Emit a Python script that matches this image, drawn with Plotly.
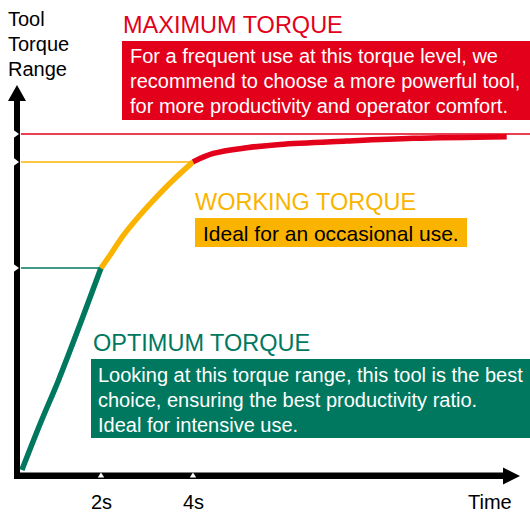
import plotly.graph_objects as go

# ---- data (time in s, torque in % of max tool torque) ----
time_optimum = [0.28, 0.70, 1.07, 1.59, 2.00]
torque_optimum = [0.0, 14.5, 26.5, 45.0, 60.1]

time_working = [2.00, 2.20, 2.49, 2.85, 3.21, 3.57, 4.00]
torque_working = [60.1, 64.0, 69.9, 75.9, 81.3, 86.3, 91.7]

time_maximum = [4.00, 4.44, 5.17, 5.89, 7.34, 8.79, 10.82]
torque_maximum = [91.7, 94.2, 95.9, 96.9, 97.9, 98.7, 99.2]

level_names = ["OPTIMUM TORQUE", "WORKING TORQUE", "MAXIMUM TORQUE"]
level_values = [60.1, 91.7, 100.0]
level_times = [2.0, 4.0, 11.4]
x_tick_vals = [2, 4]
x_tick_text = ["2s", "4s"]
axis_start = 0.26

RED = "#E2001A"
ORANGE = "#FAB400"
GREEN = "#00785F"
FONT = "Liberation Sans, Arial, sans-serif"

W, H = 530, 513
X_RANGE = [-0.1957, 11.326]
Y_RANGE = [-12.80, 139.88]


def fx(px):
    return px / W


def fy(py):
    return 1 - py / H


fig = go.Figure()

# reference level lines
for val, t_end, col in zip(level_values, level_times, [GREEN, ORANGE, RED]):
    fig.add_trace(go.Scatter(x=[axis_start, t_end], y=[val, val], mode="lines",
                             line=dict(color=col, width=1.5), hoverinfo="skip"))

# curve segments
for xs, ys, col in [(time_optimum, torque_optimum, GREEN),
                    (time_working, torque_working, ORANGE),
                    (time_maximum, torque_maximum, RED)]:
    fig.add_trace(go.Scatter(x=xs, y=ys, mode="lines", line_shape="spline",
                             line=dict(color=col, width=5.5), hoverinfo="skip"))

shapes = []
# axes bars
shapes.append(dict(type="rect", xref="paper", yref="paper", x0=fx(14), x1=fx(20),
                   y0=fy(479), y1=fy(98), fillcolor="black", line_width=0, layer="above"))
shapes.append(dict(type="rect", xref="paper", yref="paper", x0=fx(14), x1=fx(505),
                   y0=fy(479), y1=fy(472.5), fillcolor="black", line_width=0, layer="above"))
# arrowheads
shapes.append(dict(type="path", xref="paper", yref="paper",
                   path=f"M {fx(8)} {fy(101)} L {fx(26)} {fy(101)} L {fx(17)} {fy(85)} Z",
                   fillcolor="black", line_width=0, layer="above"))
shapes.append(dict(type="path", xref="paper", yref="paper",
                   path=f"M {fx(503)} {fy(467.5)} L {fx(503)} {fy(484.5)} L {fx(520)} {fy(476)} Z",
                   fillcolor="black", line_width=0, layer="above"))
fig.update_layout(shapes=shapes)

# tick notches (white) on the y axis at the level values
for val in level_values:
    fig.add_shape(type="path", xref="paper", yref="y",
                  path=f"M {fx(13.5)} {val + 1.2} L {fx(13.5)} {val - 1.2} L {fx(19)} {val} Z",
                  fillcolor="white", line_width=0, layer="above")
# tick notches on the x axis
for tv in x_tick_vals:
    fig.add_shape(type="path", xref="x", yref="paper",
                  path=f"M {tv - 0.07} {fy(477.5)} L {tv + 0.07} {fy(477.5)} L {tv} {fy(472.5)} Z",
                  fillcolor="white", line_width=0, layer="above")

# text boxes
fig.add_shape(type="rect", xref="paper", yref="paper", x0=fx(122), x1=fx(535),
              y0=fy(120), y1=fy(41), fillcolor=RED, line_width=0, layer="below")
fig.add_shape(type="rect", xref="paper", yref="paper", x0=fx(195), x1=fx(467),
              y0=fy(247), y1=fy(218), fillcolor=ORANGE, line_width=0, layer="below")
fig.add_shape(type="rect", xref="paper", yref="paper", x0=fx(91), x1=fx(535),
              y0=fy(438), y1=fy(359), fillcolor=GREEN, line_width=0, layer="below")

ann = []


def txt(text, px, py, size, color, xanchor="left"):
    ann.append(dict(text=text, x=fx(px), y=fy(py), xref="paper", yref="paper",
                    xanchor=xanchor, yanchor="middle", showarrow=False,
                    font=dict(family=FONT, size=size, color=color), borderpad=0))


# axis titles
for i, word in enumerate(["Tool", "Torque", "Range"]):
    txt(word, 7, 19.5 + 24.5 * i, 20, "black")
for tv, tt in zip(x_tick_vals, x_tick_text):
    ann.append(dict(text=tt, x=tv, y=fy(501.5), xref="x", yref="paper",
                    xanchor="center", yanchor="middle", showarrow=False,
                    font=dict(family=FONT, size=20, color="black")))
txt("Time", 513, 501.5, 20, "black", xanchor="right")

# headings
txt(level_names[2], 122, 25.5, 23.5, RED)
txt(level_names[1], 194, 202, 23.5, ORANGE)
txt(level_names[0], 92, 342.5, 23.5, GREEN)

red_lines = ["For a frequent use at this torque level, we",
             "recommend to choose a more powerful tool,",
             "for more productivity and operator comfort."]
for i, l in enumerate(red_lines):
    txt(l, 129, 56.3 + 25 * i, 20, "white")

txt("Ideal for an occasional use.", 202, 233, 21, "black")

green_lines = ["Looking at this torque range, this tool is the best",
               "choice, ensuring the best productivity ratio.",
               "Ideal for intensive use."]
for i, l in enumerate(green_lines):
    txt(l, 97, 375 + 25 * i, 20, "white")

fig.update_layout(
    annotations=ann,
    width=W, height=H,
    margin=dict(l=0, r=0, t=0, b=0),
    paper_bgcolor="white", plot_bgcolor="white",
    showlegend=False,
    xaxis=dict(range=X_RANGE, visible=False, fixedrange=True),
    yaxis=dict(range=Y_RANGE, visible=False, fixedrange=True),
)

fig.write_html("out.html", config={"displayModeBar": False},
               post_script="document.body.style.margin='0';document.body.style.overflow='hidden';")
